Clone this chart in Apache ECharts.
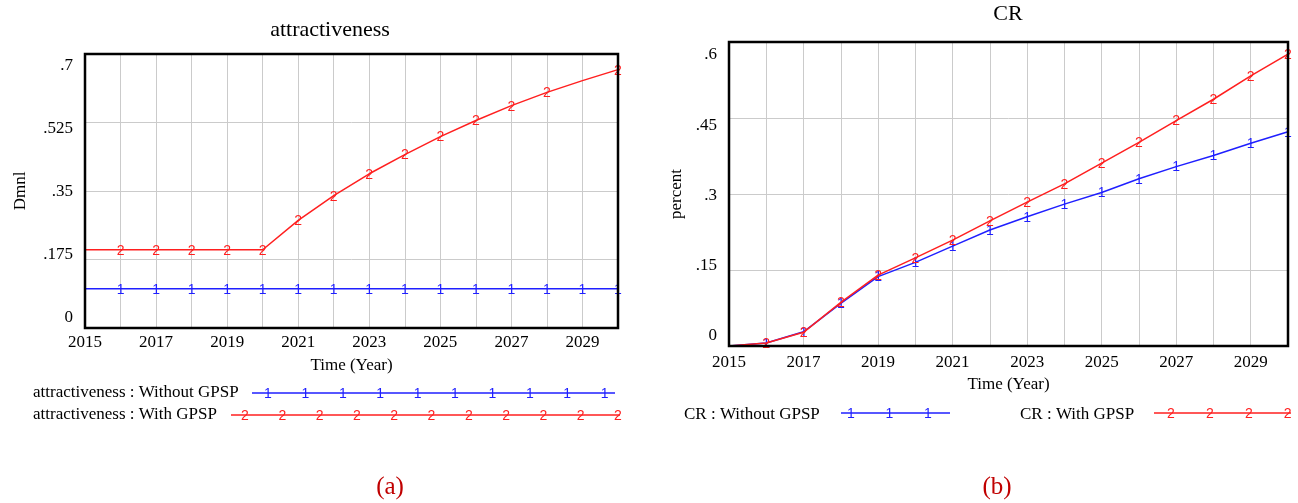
<!DOCTYPE html>
<html>
<head>
<meta charset="utf-8">
<title>attractiveness / CR</title>
<script src="https://cdn.jsdelivr.net/npm/echarts@6/dist/echarts.min.js"></script>
<style>
  html, body { margin: 0; padding: 0; background: #fff; }
  #chart { width: 1298px; height: 503px; }
</style>
</head>
<body>
<div id="chart"></div>
<script>
// Simulation years
const years = [2015, 2016, 2017, 2018, 2019, 2020, 2021, 2022, 2023, 2024, 2025, 2026, 2027, 2028, 2029, 2030];

// (a) attractiveness, Dmnl
const attrWithout = [0.1, 0.1, 0.1, 0.1, 0.1, 0.1, 0.1, 0.1, 0.1, 0.1, 0.1, 0.1, 0.1, 0.1, 0.1, 0.1];
const attrWith = [0.2, 0.2, 0.2, 0.2, 0.2, 0.2, 0.275, 0.338, 0.394, 0.443, 0.489, 0.530, 0.568, 0.602, 0.632, 0.660];
// years carrying a run number marker
const attrWithoutMarks = [2016, 2017, 2018, 2019, 2020, 2021, 2022, 2023, 2024, 2025, 2026, 2027, 2028, 2029, 2030];
const attrWithMarks = [2016, 2017, 2018, 2019, 2020, 2021, 2022, 2023, 2024, 2025, 2026, 2027, 2028, 2030];
const attrTicks = [0, 0.175, 0.35, 0.525, 0.7];

// (b) CR, percent
const crWithout = [0, 0.006, 0.028, 0.084, 0.137, 0.165, 0.197, 0.229, 0.255, 0.280, 0.303, 0.330, 0.354, 0.376, 0.400, 0.423];
const crWith = [0, 0.006, 0.027, 0.086, 0.140, 0.174, 0.209, 0.247, 0.284, 0.320, 0.361, 0.402, 0.445, 0.487, 0.533, 0.576];
const crMarks = [2016, 2017, 2018, 2019, 2020, 2021, 2022, 2023, 2024, 2025, 2026, 2027, 2028, 2029, 2030];
const crTicks = [0, 0.15, 0.3, 0.45, 0.6];

const BLUE = '#1f1fff';
const RED = '#ff1f1f';
const GRID_GRAY = '#cbcbcb';
const SERIF = '"Liberation Serif", "Times New Roman", serif';
const SANS = '"Liberation Sans", Arial, sans-serif';
const MARK_SIZE = 14;

function fmtTick(v) {
  if (Math.abs(v) < 1e-9) return '0';
  return String(+v.toFixed(3)).replace(/^0\./, '.');
}

function yearFmt(v) {
  return (v - 2015) % 2 === 0 && v < 2030 ? String(v) : '';
}

function seriesData(vals, marks) {
  return years.map((y, i) => ({ value: [y, vals[i]], label: { show: marks.indexOf(y) >= 0 } }));
}

function runSeries(name, vals, marks, color, digit, axisIdx) {
  return {
    name: name,
    type: 'line',
    xAxisIndex: axisIdx,
    yAxisIndex: axisIdx * 2,
    data: seriesData(vals, marks),
    symbol: 'circle',
    symbolSize: 1,
    itemStyle: { color: color },
    lineStyle: { color: color, width: 1.5 },
    label: {
      show: true,
      position: 'inside',
      offset: [0, 1],
      formatter: digit,
      color: color,
      fontFamily: SANS,
      fontSize: MARK_SIZE
    },
    clip: false,
    z: digit === '2' ? 4 : 3
  };
}

function xAxisDef(gridIndex, gap, margin) {
  return {
    type: 'value', gridIndex: gridIndex,
    min: 2015, max: 2030, interval: 1,
    axisLine: { show: false }, axisTick: { show: false },
    splitLine: { show: true, lineStyle: { color: GRID_GRAY, width: 1 } },
    axisLabel: { formatter: yearFmt, fontFamily: SERIF, fontSize: 17, color: '#000', margin: margin },
    name: 'Time (Year)', nameLocation: 'middle', nameGap: gap,
    nameTextStyle: { fontFamily: SERIF, fontSize: 17, color: '#000' }
  };
}

function gridAxis(gridIndex, max, interval) {
  return {
    type: 'value', gridIndex: gridIndex, position: 'left',
    min: 0, max: max, interval: interval,
    axisLabel: { show: false }, axisLine: { show: false }, axisTick: { show: false },
    splitLine: { show: true, lineStyle: { color: GRID_GRAY, width: 1 } }
  };
}

// labels of the value axis sit slightly inside the frame, evenly spread
function labelAxis(gridIndex, lo, hi, ticks, name, gap) {
  return {
    type: 'value', gridIndex: gridIndex, position: 'left', offset: 0,
    min: lo, max: hi,
    axisLine: { show: false }, axisTick: { show: false }, splitLine: { show: false },
    axisLabel: { customValues: ticks, formatter: fmtTick, fontFamily: SERIF, fontSize: 17, color: '#000', margin: 12 },
    name: name, nameLocation: 'middle', nameRotate: 90, nameGap: gap,
    nameTextStyle: { fontFamily: SERIF, fontSize: 17, color: '#000' }
  };
}

function text(str, x, y, size, color, align) {
  return {
    type: 'text', x: x, y: y, silent: true,
    style: {
      text: str, font: size + 'px ' + SERIF, fill: color,
      align: align || 'left', verticalAlign: 'middle',
      textAlign: align || 'left', textVerticalAlign: 'middle'
    }
  };
}

// legend entry: label, line segment and run digits along it
function legendEntry(label, tx, ty, x1, x2, ly, firstMark, step, count, color, digit) {
  const els = [text(label, tx, ty, 17, '#000', 'left')];
  els.push({ type: 'line', silent: true, shape: { x1: x1, y1: ly, x2: x2, y2: ly }, style: { stroke: color, lineWidth: 1.5 } });
  for (let k = 0; k < count; k++) {
    els.push({
      type: 'text', x: firstMark + k * step, y: ly + 1, silent: true,
      style: { text: digit, font: MARK_SIZE + 'px ' + SANS, fill: color, align: 'center', verticalAlign: 'middle', textAlign: 'center', textVerticalAlign: 'middle' }
    });
  }
  return els;
}

const graphics = [].concat(
  [text('attractiveness', 330, 30, 22, '#000', 'center')],
  [text('CR', 1008, 14, 22, '#000', 'center')],
  legendEntry('attractiveness : Without GPSP', 33, 393, 252, 615, 393, 268, 37.4, 10, BLUE, '1'),
  legendEntry('attractiveness : With GPSP', 33, 415, 231, 620, 415, 245, 37.3, 11, RED, '2'),
  legendEntry('CR : Without GPSP', 684, 415, 841, 950, 413, 851, 38.5, 3, BLUE, '1'),
  legendEntry('CR : With GPSP', 1020, 415, 1154, 1291, 413, 1171, 38.9, 4, RED, '2'),
  [text('(a)', 390, 487, 25, '#c00000', 'center')],
  [text('(b)', 997, 487, 25, '#c00000', 'center')]
);

const chart = echarts.init(document.getElementById('chart'), null, { renderer: 'canvas' });
chart.setOption({
  animation: false,
  backgroundColor: '#fff',
  grid: [
    { left: 85, top: 54, width: 533, height: 274, show: true, borderColor: '#000', borderWidth: 2.5, backgroundColor: 'transparent', outerBoundsMode: 'none', z: 5 },
    { left: 729, top: 42, width: 559, height: 304, show: true, borderColor: '#000', borderWidth: 2.5, backgroundColor: 'transparent', outerBoundsMode: 'none', z: 5 }
  ],
  xAxis: [xAxisDef(0, 29, 6), xAxisDef(1, 28, 8)],
  yAxis: [
    gridAxis(0, 0.7, 0.175),
    labelAxis(0, -0.0292, 0.7319, attrTicks, 'Dmnl', 56),
    gridAxis(1, 0.6, 0.15),
    labelAxis(1, -0.0214, 0.6278, crTicks, 'percent', 44)
  ],
  series: [
    runSeries('attractiveness : Without GPSP', attrWithout, attrWithoutMarks, BLUE, '1', 0),
    runSeries('attractiveness : With GPSP', attrWith, attrWithMarks, RED, '2', 0),
    runSeries('CR : Without GPSP', crWithout, crMarks, BLUE, '1', 1),
    runSeries('CR : With GPSP', crWith, crMarks, RED, '2', 1)
  ],
  graphic: { elements: graphics }
});
</script>
</body>
</html>
